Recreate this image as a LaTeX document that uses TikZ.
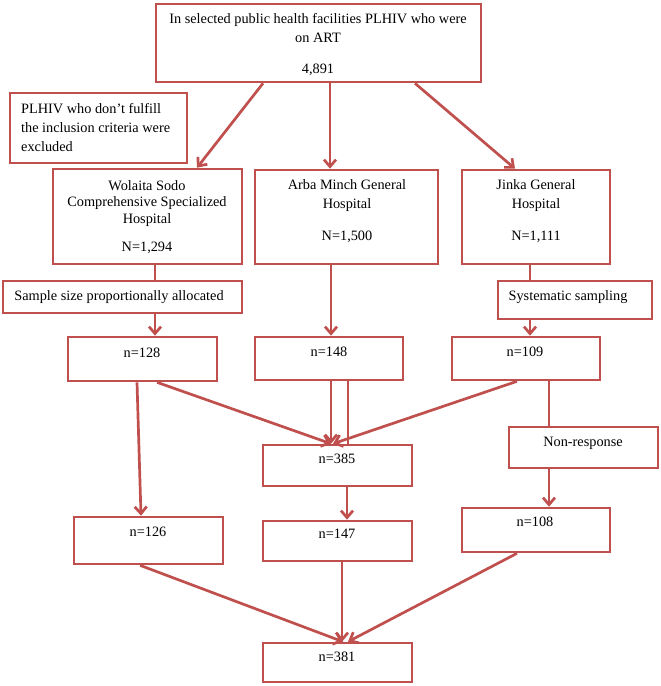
\documentclass[tikz,border=0pt]{standalone}
\usepackage{fontspec}
\setmainfont{Liberation Serif}
\usetikzlibrary{arrows.meta}
\definecolor{myred}{RGB}{192,80,77}
\begin{document}
\begin{tikzpicture}[x=1pt,y=-1pt,
  box/.style={draw=myred, line width=2.6pt, fill=white, inner sep=0pt},
  txt/.style={inner sep=0pt, font=\fontsize{14.3}{19}\selectfont, align=center, anchor=north},
  conn/.style={draw=myred, line width=2.7pt},
  arr/.style={conn, -{Straight Barb[length=7pt,width=12pt,line width=2.7pt]}}]
\useasboundingbox (0,0) rectangle (661,686);

% boxes
\node[box, minimum width=325pt, minimum height=78pt] (top) at (318.5,43) {};
\node[box, minimum width=177pt, minimum height=70pt] (excl) at (98.5,128) {};
\node[box, minimum width=189pt, minimum height=95pt] (wol) at (147.5,216.5) {};
\node[box, minimum width=183pt, minimum height=94pt] (arba) at (346.5,217) {};
\node[box, minimum width=148pt, minimum height=94pt] (jinka) at (536,217) {};
\node[box, minimum width=239pt, minimum height=32pt] (sample) at (122.5,297) {};
\node[box, minimum width=154pt, minimum height=38pt] (syst) at (575,300) {};
\node[box, minimum width=149pt, minimum height=44pt] (b128) at (142.5,359) {};
\node[box, minimum width=148pt, minimum height=43pt] (b148) at (329,358.5) {};
\node[box, minimum width=148pt, minimum height=43pt] (b109) at (526,358.5) {};
\node[box, minimum width=149pt, minimum height=41pt] (b385) at (337.5,465.5) {};
\node[box, minimum width=149pt, minimum height=41pt] (nonresp) at (583.5,447.5) {};
\node[box, minimum width=149pt, minimum height=47pt] (b126) at (148.5,540.5) {};
\node[box, minimum width=149pt, minimum height=40pt] (b147) at (337.5,541) {};
\node[box, minimum width=148pt, minimum height=44pt] (b108) at (536,530) {};
\node[box, minimum width=149pt, minimum height=39pt] (b381) at (337.5,662.5) {};

% texts
\node[txt] (t-top) at (318,13) {In selected public health facilities PLHIV who were\\on ART\\[12pt]4,891};
\node[txt, align=left, anchor=north west] (t-excl) at (21,103) {PLHIV who don't fulfill\\the inclusion criteria were\\excluded};
\node[txt, font=\fontsize{14.3}{16.5}\selectfont] (t-wol) at (147,180) {Wolaita Sodo\\Comprehensive Specialized\\Hospital\\[11.5pt]N=1,294};
\node[txt] (t-arba) at (347,179) {Arba Minch General\\Hospital\\[13pt]N=1,500};
\node[txt] (t-jinka) at (536,179) {Jinka General\\Hospital\\[13pt]N=1,111};
\node[txt] (t-sample) at (119,290) {Sample size proportionally allocated};
\node[txt] (t-syst) at (568,290) {Systematic sampling};
\node[txt] (t-b128) at (142,348) {n=128};
\node[txt] (t-b148) at (329,347) {n=148};
\node[txt] (t-b109) at (525,347) {n=109};
\node[txt] (t-b385) at (337,454) {n=385};
\node[txt] (t-nonresp) at (583,437) {Non-response};
\node[txt] (t-b126) at (148,527) {n=126};
\node[txt] (t-b147) at (337,529) {n=147};
\node[txt] (t-b108) at (535,517) {n=108};
\node[txt] (t-b381) at (337,652) {n=381};

% connectors
\draw[arr] ([xshift=-55.5pt]top.south) -- ([xshift=49.5pt]wol.north);
\draw[arr] ([xshift=11.5pt]top.south) -- ([xshift=-16.5pt]arba.north);
\draw[arr] ([xshift=96.5pt]top.south) -- ([xshift=-21pt]jinka.north);

\draw[conn] ([xshift=7.5pt]wol.south) -- ([xshift=32.5pt]sample.north);
\draw[arr] ([xshift=32.5pt]sample.south) -- ([xshift=12.5pt]b128.north);
\draw[arr] ([xshift=-15.5pt]arba.south) -- ([xshift=2pt]b148.north);
\draw[conn] ([xshift=-6pt]jinka.south) -- ([xshift=-45pt]syst.north);
\draw[arr] ([xshift=-45pt]syst.south) -- ([xshift=4pt]b109.north);

\draw[arr] ([xshift=14.5pt]b128.south) -- ([xshift=-6.5pt]b385.north);
\draw[arr] ([xshift=2pt]b148.south) -- ([xshift=-6.5pt]b385.north);
\draw[conn] ([xshift=19pt]b148.south) -- ([xshift=10.5pt]b385.north);
\draw[arr] ([xshift=-9pt]b109.south) -- ([xshift=-4.5pt]b385.north);
\draw[arr] ([xshift=-5.5pt]b128.south) -- ([xshift=-7.5pt]b126.north);
\draw[conn] ([xshift=23pt]b109.south) -- ([xshift=-34.5pt]nonresp.north);
\draw[arr] ([xshift=-34.5pt]nonresp.south) -- ([xshift=13pt]b108.north);
\draw[arr] ([xshift=9.5pt]b385.south) -- ([xshift=9.5pt]b147.north);

\draw[arr] ([xshift=-8.5pt]b126.south) -- ([xshift=5.5pt]b381.north);
\draw[arr] ([xshift=4.5pt]b147.south) -- ([xshift=4.5pt]b381.north);
\draw[arr] ([xshift=-19pt]b108.south) -- ([xshift=10.5pt]b381.north);
\end{tikzpicture}
\end{document}
